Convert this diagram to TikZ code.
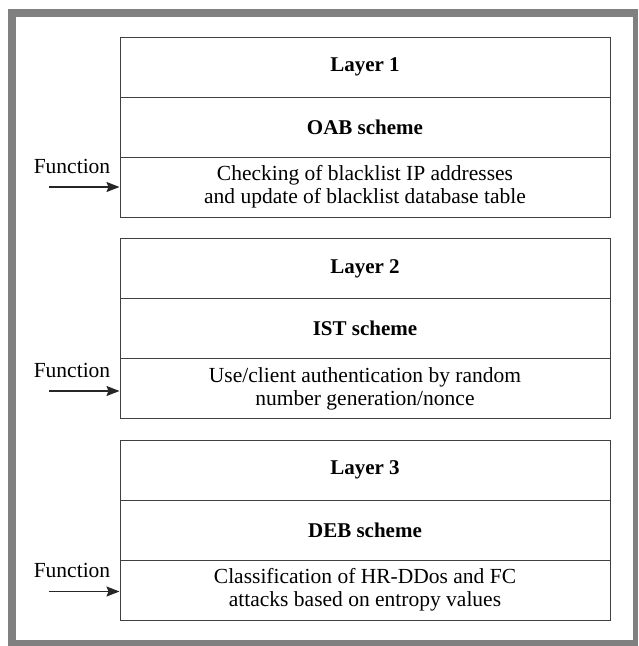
\documentclass[tikz,border=0pt]{standalone}
\usepackage{fontspec}
\setmainfont{Liberation Serif}
\usetikzlibrary{arrows.meta}
\definecolor{framegray}{HTML}{808080}
\definecolor{linegray}{HTML}{404040}
\tikzset{
  rowbox/.style={draw=linegray, line width=1pt, minimum width=490pt, minimum height=60pt, inner sep=0pt, align=center, font=\fontsize{21.5pt}{23pt}\selectfont},
  headbox/.style={rowbox, font=\fontsize{21pt}{23pt}\selectfont\bfseries},
  funclabel/.style={anchor=base, inner sep=0pt, font=\fontsize{21.5pt}{24pt}\selectfont},
  funcarrow/.style={draw=black!85, line width=1.6pt, -{Stealth[length=13pt,width=10pt,inset=2pt]}}
}
\begin{document}
\begin{tikzpicture}[x=1pt,y=-1pt]
\useasboundingbox (0,0) rectangle (638,646);
\fill[framegray] (8,9) rectangle (638,646);
\fill[white] (16,17) rectangle (633,640);
% Layer 1
\node[headbox] (l1a) at (365,67) {Layer 1};
\node[headbox] (l1b) at (365,127) {OAB scheme};
\node[rowbox] (l1c) at (365,187) {Checking of blacklist IP addresses\\and update of blacklist database table};
% Layer 2
\node[headbox] (l2a) at (365,268.5) {Layer 2};
\node[headbox] (l2b) at (365,328.5) {IST scheme};
\node[rowbox] (l2c) at (365,388.7) {Use/client authentication by random\\number generation/nonce};
% Layer 3
\node[headbox] (l3a) at (365,470) {Layer 3};
\node[headbox] (l3b) at (365,530) {DEB scheme};
\node[rowbox] (l3c) at (365,590) {Classification of HR-DDos and FC\\attacks based on entropy values};
% Function labels and arrows
\node[funclabel] (f1) at (72,173) {Function};
\node[funclabel] (f2) at (72,377) {Function};
\node[funclabel] (f3) at (72,577) {Function};
\coordinate (s1) at (49,187);
\coordinate (s2) at (49,391);
\coordinate (s3) at (49,591.5);
\draw[funcarrow] (s1) -- (l1c.west |- s1);
\draw[funcarrow] (s2) -- (l2c.west |- s2);
\draw[funcarrow] (s3) -- (l3c.west |- s3);
\end{tikzpicture}
\end{document}
